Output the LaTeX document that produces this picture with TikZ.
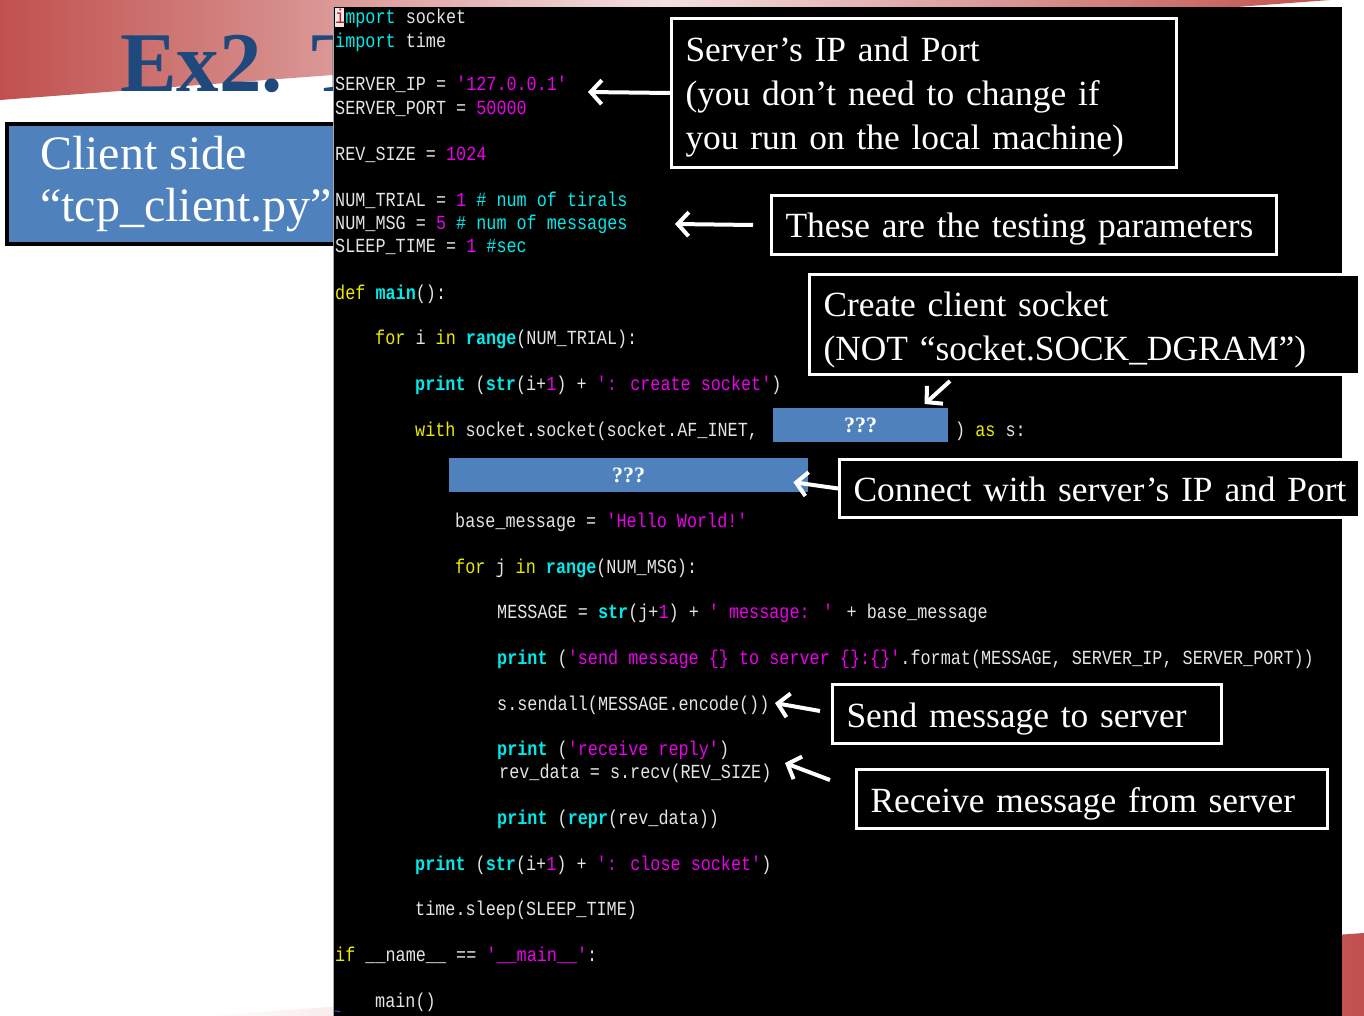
\documentclass[tikz,border=0pt]{standalone}
\usepackage{fontspec}
\usetikzlibrary{arrows.meta}
\setmainfont{Liberation Serif}
\newfontfamily\codefont[FakeStretch=0.84]{Liberation Mono}
\definecolor{cred}{RGB}{192,80,77}
\definecolor{cpink}{RGB}{244,224,224}
\definecolor{ctitle}{RGB}{31,73,125}
\definecolor{cblue}{RGB}{79,129,189}
\definecolor{ccyan}{RGB}{0,235,235}
\definecolor{cmag}{RGB}{235,0,235}
\definecolor{cyel}{RGB}{235,235,0}
\definecolor{cwhite}{RGB}{228,228,228}
\definecolor{ccur}{RGB}{160,40,40}
\definecolor{ccurbg}{RGB}{245,228,228}
\definecolor{ctilde}{RGB}{70,70,255}
\newcommand\cKw[1]{\textcolor{cyel}{#1}}
\newcommand\cFn[1]{\textcolor{ccyan}{\bfseries #1}}
\newcommand\cCy[1]{\textcolor{ccyan}{#1}}
\newcommand\cSt[1]{\textcolor{cmag}{#1}}
\newcommand\annstrut{\rule[-8pt]{0pt}{42pt}}
\begin{document}
\begin{tikzpicture}[x=1pt,y=-1pt,
  code/.style={anchor=base west, inner sep=0pt, text height=14pt, text depth=4pt, text=cwhite, font=\codefont\fontsize{20}{23}\selectfont},
  ann/.style={anchor=north west, draw=white, line width=3pt, fill=black, text=white, inner xsep=14pt, inner ysep=0pt, align=left, font=\fontsize{35.4}{44}\selectfont},
  qbox/.style={anchor=north west, fill=cblue, text=white, inner sep=0pt, font=\bfseries\fontsize{22}{24}\selectfont},
  cltext/.style={anchor=base west, inner sep=0pt, text=white, font=\fontsize{48}{52}\selectfont},
  arr/.style={white, line width=4pt, -{Straight Barb[length=11pt,width=24pt]}}
]
\useasboundingbox (0,0) rectangle (1364,1016);
\fill[white] (0,0) rectangle (1364,1016);
% decorative bands
\shade[left color=cred, right color=cred, middle color=cpink] (0,0) -- (1330,0) -- (0,100) -- cycle;
\shade[left color=white, right color=cred] (203,1016) -- (1364,933) -- (1364,1016) -- cycle;
% title
\node[anchor=base west, inner sep=0pt, text=ctitle, font=\bfseries\fontsize{85}{90}\selectfont] (title) at (120,92) {Ex2. T};
% client side box
\node[anchor=north west, draw=black, line width=4pt, fill=cblue, minimum width=370pt, minimum height=120pt] (client) at (5,122) {};
\node[cltext] (cl1) at (40,170) {Client side};
\node[cltext] (cl2) at (40,222) {“tcp\_client.py”};
% code screen
\node[anchor=north west, fill=black, inner sep=0pt, minimum width=1009pt, minimum height=1009pt] (codebox) at (333,7) {};
\draw[gray!70, line width=1.5pt] (333.7,7) -- (333.7,1016);
\fill[ccurbg] (334.5,8) rectangle (344,27);
\node[code] (l1) at (335,24) {\textcolor{ccur}{i}\cCy{mport} socket};
\node[code] (l2) at (335,48) {\cCy{import} time};
\node[code] (l3) at (335,91) {SERVER\_IP = \cSt{'127.0.0.1'}};
\node[code] (l4) at (335,115) {SERVER\_PORT = \cSt{50000}};
\node[code] (l5) at (335,161) {REV\_SIZE = \cSt{1024}};
\node[code] (l6) at (335,207) {NUM\_TRIAL = \cSt{1} \cCy{\# num of tirals}};
\node[code] (l7) at (335,230) {NUM\_MSG = \cSt{5} \cCy{\# num of messages}};
\node[code] (l8) at (335,253) {SLEEP\_TIME = \cSt{1} \cCy{\#sec}};
\node[code] (l9) at (335,299) {\cKw{def} \cFn{main}():};
\node[code] (l10) at (375,344) {\cKw{for} i \cKw{in} \cFn{range}(NUM\_TRIAL):};
\node[code] (l11) at (415,390) {\cFn{print} (\cFn{str}(i+\cSt{1}) + \cSt{': create socket'})};
\node[code] (l12) at (415,436) {\cKw{with} socket.socket(socket.AF\_INET,};
\node[code] (l12b) at (955,436) {) \cKw{as} s:};
\node[code] (l14) at (455,527) {base\_message = \cSt{'Hello World!'}};
\node[code] (l15) at (455,573) {\cKw{for} j \cKw{in} \cFn{range}(NUM\_MSG):};
\node[code] (l16) at (497,618) {MESSAGE = \cFn{str}(j+\cSt{1}) + \cSt{' message: '} + base\_message};
\node[code] (l17) at (497,664) {\cFn{print} (\cSt{'send message \{\} to server \{\}:\{\}'}.format(MESSAGE, SERVER\_IP, SERVER\_PORT))};
\node[code] (l18) at (497,710) {s.sendall(MESSAGE.encode())};
\node[code] (l19) at (497,755) {\cFn{print} (\cSt{'receive reply'})};
\node[code] (l20) at (499,778) {rev\_data = s.recv(REV\_SIZE)};
\node[code] (l21) at (497,824) {\cFn{print} (\cFn{repr}(rev\_data))};
\node[code] (l22) at (415,870) {\cFn{print} (\cFn{str}(i+\cSt{1}) + \cSt{': close socket'})};
\node[code] (l23) at (415,915) {time.sleep(SLEEP\_TIME)};
\node[code] (l24) at (335,961) {\cKw{if} \_\_name\_\_ == \cSt{'\_\_main\_\_'}:};
\node[code] (l25) at (375,1007) {main()};
\node[code, text height=5pt, text depth=0pt, text=ctilde, font=\codefont\fontsize{14}{16}\selectfont] (l26) at (334,1016) {\textasciitilde};
% blank boxes
\node[qbox, minimum width=175pt, minimum height=34pt] (q1) at (773,408) {???};
\node[qbox, minimum width=359pt, minimum height=34pt] (q2) at (449,458) {???};
% annotations
\node[ann, text width=477pt, minimum height=149pt] (nA) at (670,17) {\rule{0pt}{33pt}Server’s IP and Port\\(you don’t need to change if\\you run on the local machine)\rule[-8pt]{0pt}{8pt}};
\node[ann, text width=477pt, minimum height=59pt] (nB) at (770,194) {\annstrut\mbox{These are the testing parameters}};
\node[ann, text width=522pt, minimum height=100pt] (nC) at (808,273) {\rule{0pt}{36pt}Create client socket\\\mbox{(NOT “socket.SOCK\_DGRAM”)}\rule[-8pt]{0pt}{8pt}};
\node[ann, text width=492pt, minimum height=58pt] (nD) at (838,458) {\annstrut\mbox{Connect with server’s IP and Port}};
\node[ann, text width=361pt, minimum height=59pt] (nE) at (831,683) {\annstrut\mbox{Send message to server}};
\node[ann, text width=443pt, minimum height=59pt] (nF) at (855,768) {\annstrut\mbox{Receive message from server}};
% arrows
\coordinate (tA) at (588,92);
\coordinate (tB) at (675,224);
\coordinate (tE) at (775,703);
\coordinate (tF) at (785,763);
\draw[arr] (nA.west) -- (tA);
\draw[arr] ([xshift=-17pt]nB.west) -- (tB);
\draw[arr] ([shift={(142,5)}]nC.south west) -- ([shift={(64,-4)}]q1.north);
\draw[arr] (nD.west) -- ([shift={(-15,7)}]q2.east);
\draw[arr] ([shift={(-11,-3)}]nE.west) -- (tE);
\draw[arr] ([shift={(-25,-19)}]nF.west) -- (tF);
\end{tikzpicture}
\end{document}
